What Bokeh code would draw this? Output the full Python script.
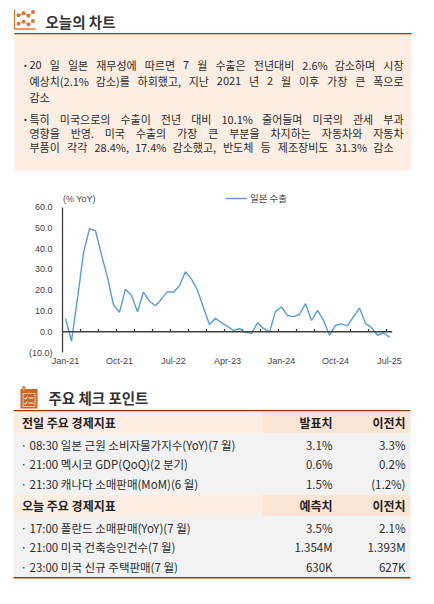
import pandas as pd
from bokeh.plotting import figure
from bokeh.layouts import column
from bokeh.models import Range1d, FixedTicker, Span, Legend, LegendItem, Label
from bokeh.core.properties import value
from bokeh.embed import file_html
from bokeh.resources import INLINE

# ---------------- data ----------------
months = [d.strftime("%b-%y") for d in pd.date_range("2021-01-01", "2025-07-01", freq="MS")]
exports = [6.4, -4.5, 16.1, 38.0, 49.6, 48.6, 37.0, 26.2, 13.0, 9.4, 20.5, 17.5,
           9.6, 19.1, 14.7, 12.5, 15.8, 19.3, 19.0, 22.1, 28.9, 25.3, 20.0, 11.5,
           3.5, 6.5, 4.3, 2.6, 0.6, 1.5, -0.3, -0.8, 4.3, 1.6, -0.2, 9.8,
           11.9, 7.8, 7.3, 8.3, 13.5, 5.4, 10.3, 5.5, -1.7, 3.1, 3.8, 2.8,
           7.3, 11.4, 4.0, 2.0, -1.7, -0.5, -2.6]
series_name = "일본 수출"
y_unit_label = "(% YoY)"
x_tick_labels = ["Jan-21", "Oct-21", "Jul-22", "Apr-23", "Jan-24", "Oct-24", "Jul-25"]
y_ticks = [-10, 0, 10, 20, 30, 40, 50, 60]
y_tick_labels = ["(10.0)", "0.0", "10.0", "20.0", "30.0", "40.0", "50.0", "60.0"]

header_title = "오늘의 차트"
para1 = ["20 일 일본 재무성에 따르면 7 월 수출은 전년대비 2.6% 감소하며 시장",
         "예상치(2.1% 감소)를 하회했고, 지난 2021 년 2 월 이후 가장 큰 폭으로",
         "감소"]
para2 = ["특히 미국으로의 수출이 전년 대비 10.1% 줄어들며 미국의 관세 부과",
         "영향을 반영. 미국 수출의 가장 큰 부분을 차지하는 자동차와 자동차",
         "부품이 각각 28.4%, 17.4% 감소했고, 반도체 등 제조장비도 31.3% 감소"]

section_title = "주요 체크 포인트"
t1_header = ["전일 주요 경제지표", "발표치", "이전치"]
t1_items = ["· 08:30 일본 근원 소비자물가지수(YoY)(7 월)",
            "· 21:00 멕시코 GDP(QoQ)(2 분기)",
            "· 21:30 캐나다 소매판매(MoM)(6 월)"]
t1_actual = ["3.1%", "0.6%", "1.5%"]
t1_prior = ["3.3%", "0.2%", "(1.2%)"]
t2_header = ["오늘 주요 경제지표", "예측치", "이전치"]
t2_items = ["· 17:00 폴란드 소매판매(YoY)(7 월)",
            "· 21:00 미국 건축승인건수(7 월)",
            "· 23:00 미국 신규 주택판매(7 월)"]
t2_forecast = ["3.5%", "1.354M", "630K"]
t2_prior = ["2.1%", "1.393M", "627K"]

# ---------------- styles ----------------
KR = value("Noto Sans CJK KR")
BROWN = "#843C0C"
PEACH = "#FDEEE3"
PEACH2 = "#FDE5D6"
GRAY = "#F2F2F2"
TXT = "#2B2B2B"
ORANGE = "#CC6528"
W = 426


def canvas(h, y_top, y_bot):
    p = figure(width=W, height=h, x_range=Range1d(0, W), y_range=Range1d(y_bot, y_top),
               x_axis_type=None, y_axis_type=None, output_backend="svg",
               toolbar_location=None, min_border=0, title=None)
    p.min_border_left = 0
    p.min_border_right = 0
    p.min_border_top = 0
    p.min_border_bottom = 0
    p.frame_align = False
    p.outline_line_color = None
    p.background_fill_color = "white"
    p.border_fill_color = "white"
    return p


def char_w(c):
    o = ord(c)
    if 0xAC00 <= o <= 0xD7A3:
        return 0.92
    if c == " ":
        return 0.224
    if c.isdigit():
        return 0.554
    if c == "%":
        return 0.86
    if c in ".,:":
        return 0.25
    if c in "()":
        return 0.33
    return 0.55


def text_w(s, fs):
    return sum(char_w(c) for c in s) * fs


def justify(p, line, y, x0, x1, fs, justified=True):
    words = line.split(" ")
    if not justified or len(words) == 1:
        p.text(x=[x0], y=[y], text=[line], text_font=KR, text_font_size=f"{fs}px",
               text_color=TXT, text_baseline="middle", text_align="left")
        return
    ws = [text_w(w, fs) for w in words]
    gap = (x1 - x0 - sum(ws)) / (len(words) - 1)
    xs, cur = [], x0
    for w in ws:
        xs.append(cur)
        cur += w + gap
    p.text(x=xs[:-1], y=[y] * (len(words) - 1), text=words[:-1], text_font=KR,
           text_font_size=f"{fs}px", text_color=TXT, text_baseline="middle", text_align="left")
    p.text(x=[x1], y=[y], text=[words[-1]], text_font=KR, text_font_size=f"{fs}px",
           text_color=TXT, text_baseline="middle", text_align="right")


# ---------------- top part ----------------
top = canvas(186, 0, 186)
# chart icon
top.line([14, 14, 35], [9, 28.5, 28.5], line_color="#D9772D", line_width=1.3)
top.line([18, 23, 28, 32.5], [14.7, 12.8, 15.3, 11.5], line_color="#E99A66", line_width=1)
top.line([18, 23, 28, 32.5], [23.3, 21.3, 24, 20.5], line_color="#E99A66", line_width=1)
top.scatter([18, 23, 28, 32.5, 18, 23, 28, 32.5], [14.7, 12.8, 15.3, 11.5, 23.3, 21.3, 24, 20.5],
            size=4, fill_color="#DD7434", line_color=None)
top.text(x=[45], y=[20.5], text=[header_title], text_font=KR, text_font_size="14.5px",
         text_font_style="bold", text_color="#333333", text_baseline="middle")
top.line([14, 411], [33.3, 33.3], line_color=BROWN, line_width=1.5)
top.quad(left=[14], right=[411], top=[34], bottom=[170], fill_color=PEACH, line_color=None)

FS = 11
p1_y = [64, 80, 96]
p2_y = [118, 132.5, 146.5]
for para, ys in ((para1, p1_y), (para2, p2_y)):
    top.text(x=[23.5], y=[ys[0]], text=["•"], text_font=KR, text_font_size="8px",
             text_color=TXT, text_baseline="middle")
for i, line in enumerate(para1):
    justify(top, line, p1_y[i], 29, 403, FS, justified=(i < 2))
for i, line in enumerate(para2):
    justify(top, line, p2_y[i], 29, 403 if i < 2 else 393, FS, justified=True)

# ---------------- chart ----------------
xs = list(range(len(months)))
chart = figure(width=W, height=186, x_range=Range1d(-0.5, len(months) - 0.5),
               y_range=Range1d(y_ticks[0], 68), output_backend="svg",
               toolbar_location=None, title=None, min_border_left=62, min_border_right=34,
               min_border_top=4, min_border_bottom=20)
chart.frame_align = False
chart.outline_line_color = None
chart.grid.visible = False
chart.background_fill_color = "white"
chart.border_fill_color = "white"

yax = chart.yaxis[0]
yax.ticker = FixedTicker(ticks=y_ticks)
yax.bounds = (y_ticks[0], y_ticks[-1])
yax.major_label_overrides = {t: l for t, l in zip(y_ticks, y_tick_labels)}
yax.major_tick_out = 0
yax.major_tick_in = 0
yax.minor_tick_out = 0
yax.minor_tick_in = 0
yax.axis_line_color = "#404040"
yax.axis_line_width = 1.3
yax.major_label_standoff = 10
yax.major_label_text_font = "Liberation Sans"
yax.major_label_text_font_size = "9px"
yax.major_label_text_color = "#444444"

xax = chart.xaxis[0]
xax.ticker = FixedTicker(ticks=[months.index(m) for m in x_tick_labels])
xax.major_label_overrides = {months.index(m): m for m in x_tick_labels}
xax.axis_line_color = None
xax.major_tick_out = 0
xax.major_tick_in = 0
xax.minor_tick_out = 0
xax.minor_tick_in = 0
xax.major_label_standoff = 3
xax.major_label_text_font = "Liberation Sans"
xax.major_label_text_font_size = "9px"
xax.major_label_text_color = "#444444"

chart.add_layout(Span(location=0, dimension="width", line_color="#404040", line_width=1.3))
qticks = [i + 2.5 for i in range(0, len(months) - 3, 3)]
chart.segment(x0=qticks, y0=[0] * len(qticks), x1=qticks, y1=[1.3] * len(qticks),
              line_color="#303030", line_width=1.2)
r = chart.line(xs, exports, line_color="#5B9BD5", line_width=1.4)

legend = Legend(items=[LegendItem(label=series_name, renderers=[r])], location=(163, 147),
                orientation="horizontal", border_line_color=None, background_fill_alpha=0,
                padding=0, margin=0, spacing=0, glyph_width=22, glyph_height=10,
                label_height=10, label_standoff=3, label_text_font="Noto Sans CJK KR",
                label_text_font_size="9.5px", label_text_color="#444444")
chart.add_layout(legend)
chart.add_layout(Label(x=-0.42, y=64.0, text=y_unit_label, text_font="Liberation Sans",
                       text_font_size="9px", text_color="#444444", text_baseline="middle",
                       text_align="left"))

# ---------------- bottom part ----------------
bot = canvas(224, 372, 596)
# calendar icon
bot.quad(left=[20], right=[37], top=[388.5], bottom=[408], fill_color=ORANGE, line_color=None)
bot.quad(left=[22.3, 32.3], right=[24.3, 34.3], top=[386], bottom=[391],
         fill_color="#E9A57A", line_color=ORANGE, line_width=0.8)
bot.quad(left=[22.5], right=[34.5], top=[393], bottom=[406], fill_color=None,
         line_color="#F4C9AE", line_width=1)
bot.line([24, 25, 26.8], [397.5, 398.8, 396], line_color="white", line_width=1)
bot.line([24, 25, 26.8], [402.5, 403.8, 401], line_color="white", line_width=1)
bot.segment(x0=[28, 28], y0=[397.5, 402.5], x1=[33, 33], y1=[397.5, 402.5],
            line_color="white", line_width=1)
bot.text(x=[48], y=[397], text=[section_title], text_font=KR, text_font_size="14.5px",
         text_font_style="bold", text_color="#333333", text_baseline="middle")

bot.line([13, 410], [410.3, 410.3], line_color=BROWN, line_width=1.5)


def table(p, y_head_top, header, items, col1, col2):
    hb = y_head_top + 21.5
    p.quad(left=[13, 261], right=[261, 410], top=[y_head_top] * 2, bottom=[hb] * 2,
           fill_color=[PEACH, PEACH2], line_color=None)
    p.quad(left=[13], right=[410], top=[hb], bottom=[hb + 61.5], fill_color=GRAY, line_color=None)
    hy = y_head_top + 11
    p.text(x=[21.5], y=[hy], text=[header[0]], text_font=KR, text_font_size="12px",
           text_font_style="bold", text_color="#222222", text_baseline="middle")
    p.text(x=[332, 405], y=[hy, hy], text=header[1:], text_font=KR, text_font_size="12px",
           text_font_style="bold", text_color="#222222", text_baseline="middle",
           text_align="right")
    ys = [hb + 11.5 + 19.5 * i for i in range(len(items))]
    p.text(x=[20] * len(items), y=ys, text=items, text_font=KR, text_font_size="11.5px",
           text_color=TXT, text_baseline="middle")
    p.text(x=[332] * len(items), y=ys, text=col1, text_font=KR, text_font_size="11.5px",
           text_color=TXT, text_baseline="middle", text_align="right")
    p.text(x=[405] * len(items), y=ys, text=col2, text_font=KR, text_font_size="11.5px",
           text_color=TXT, text_baseline="middle", text_align="right")
    return hb + 61.5


end1 = table(bot, 411, t1_header, t1_items, t1_actual, t1_prior)
end2 = table(bot, end1, t2_header, t2_items, t2_forecast, t2_prior)
bot.line([13, 410], [end2 + 0.3, end2 + 0.3], line_color=BROWN, line_width=1.5)

page = column(top, chart, bot, spacing=0)
open("out.html", "w").write(file_html(page, INLINE))
